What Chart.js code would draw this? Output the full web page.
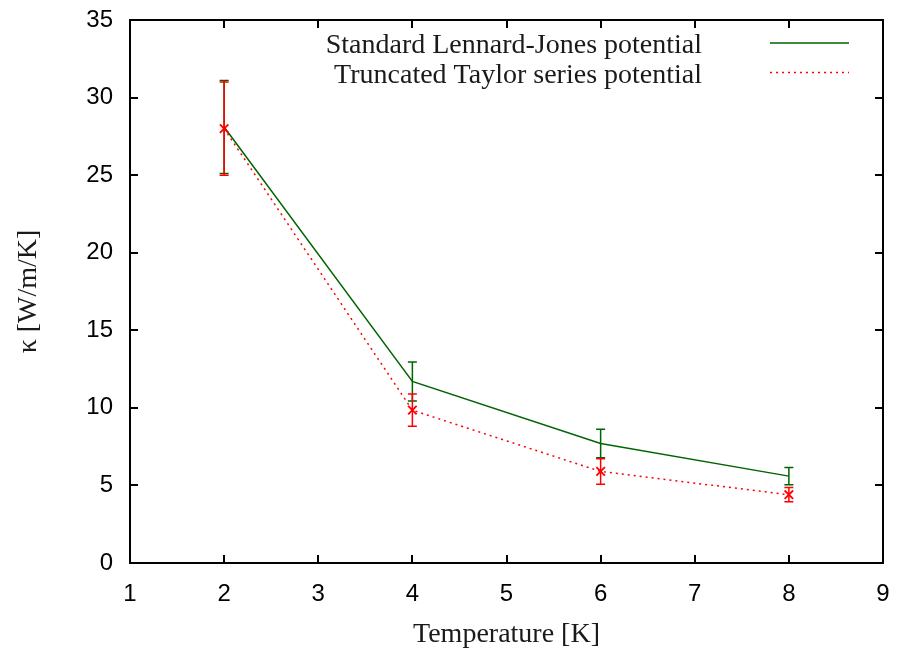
<!DOCTYPE html>
<html>
<head>
<meta charset="utf-8">
<title>Thermal conductivity vs temperature</title>
<script src="https://cdn.jsdelivr.net/npm/chart.js@4/dist/chart.umd.min.js"></script>
<style>
    html, body { margin: 0; padding: 0; background: #fff; }
    #wrap { width: 900px; height: 658px; position: relative; }
</style>
</head>
<body>
<div id="wrap"><canvas id="kappa-chart"></canvas></div>
<script>
// --- DATA ---
const temperatures = [2, 4, 6, 8];
const ljKappa = [28.1, 11.7, 7.7, 5.6];
const ljError = [3.0, 1.25, 0.92, 0.56];
const taylorKappa = [28.0, 9.85, 5.9, 4.4];
const taylorError = [3.0, 1.04, 0.82, 0.46];
const xTicks = [1, 2, 3, 4, 5, 6, 7, 8, 9];
const yTicks = [0, 5, 10, 15, 20, 25, 30, 35];

const seriesLabels = ['Standard Lennard-Jones potential', 'Truncated Taylor series potential'];
const GREEN = '#006400';
const RED = '#ff0000';
const SERIF = '"Liberation Serif", "Times New Roman", serif';
const SANS = '"Liberation Sans", Arial, sans-serif';

const toPoints = (xs, ys) => xs.map((x, i) => ({ x: x, y: ys[i] }));

// error bars, frame with inward ticks, and the in-plot key
const gnuplotStyle = {
    id: 'gnuplotStyle',
    afterDatasetDraw(chart, args) {
        const ds = chart.data.datasets[args.index];
        const errs = ds.errors;
        if (!errs) return;
        const { ctx, scales: { x, y } } = chart;
        ctx.save();
        ctx.strokeStyle = ds.borderColor;
        ctx.lineWidth = 1.5;
        ctx.setLineDash([]);
        ds.data.forEach((p, i) => {
            const px = x.getPixelForValue(p.x);
            const top = y.getPixelForValue(p.y + errs[i]);
            const bot = y.getPixelForValue(p.y - errs[i]);
            ctx.beginPath();
            ctx.moveTo(px, top); ctx.lineTo(px, bot);
            ctx.moveTo(px - 4.5, top); ctx.lineTo(px + 4.5, top);
            ctx.moveTo(px - 4.5, bot); ctx.lineTo(px + 4.5, bot);
            ctx.stroke();
        });
        ctx.restore();
    },
    afterDraw(chart) {
        const { ctx, chartArea: a, scales: { x, y } } = chart;
        ctx.save();
        ctx.strokeStyle = '#000';
        ctx.lineWidth = 2;
        ctx.beginPath();
        xTicks.forEach(v => {
            const px = Math.round(x.getPixelForValue(v));
            ctx.moveTo(px, a.bottom); ctx.lineTo(px, a.bottom - 8);
            ctx.moveTo(px, a.top); ctx.lineTo(px, a.top + 8);
        });
        yTicks.forEach(v => {
            const py = Math.round(y.getPixelForValue(v));
            ctx.moveTo(a.left, py); ctx.lineTo(a.left + 8, py);
            ctx.moveTo(a.right, py); ctx.lineTo(a.right - 8, py);
        });
        ctx.stroke();
        ctx.strokeRect(a.left, a.top, a.right - a.left, a.bottom - a.top);

        // key, top right inside the plot
        ctx.font = '28px ' + SERIF;
        ctx.fillStyle = '#1a1a1a';
        ctx.textAlign = 'right';
        ctx.textBaseline = 'alphabetic';
        const rows = [
            { label: seriesLabels[0], color: GREEN, dash: [], base: 53, lineY: 43 },
            { label: seriesLabels[1], color: RED, dash: [2, 4], base: 83, lineY: 72.5 }
        ];
        rows.forEach(r => {
            ctx.fillText(r.label, 702, r.base);
            ctx.beginPath();
            ctx.strokeStyle = r.color;
            ctx.lineWidth = 1.5;
            ctx.setLineDash(r.dash);
            ctx.moveTo(770, r.lineY);
            ctx.lineTo(849, r.lineY);
            ctx.stroke();
        });
        ctx.restore();
    }
};

new Chart(document.getElementById('kappa-chart'), {
    type: 'line',
    data: {
        datasets: [
            {
                label: seriesLabels[0],
                data: toPoints(temperatures, ljKappa),
                errors: ljError,
                borderColor: GREEN,
                borderWidth: 1.5,
                pointRadius: 0,
                tension: 0,
                order: 2
            },
            {
                label: seriesLabels[1],
                data: toPoints(temperatures, taylorKappa),
                errors: taylorError,
                borderColor: RED,
                borderWidth: 1.5,
                borderDash: [2, 4],
                pointStyle: 'crossRot',
                pointRadius: 6,
                pointBorderWidth: 1.8,
                pointBorderColor: RED,
                tension: 0,
                order: 1
            }
        ]
    },
    options: {
        responsive: true,
        maintainAspectRatio: false,
        animation: false,
        layout: { padding: { top: 20, right: 17, left: 0, bottom: 0 } },
        plugins: { legend: { display: false }, tooltip: { enabled: false } },
        scales: {
            x: {
                type: 'linear',
                min: 1,
                max: 9,
                afterFit: s => { s.height = 95; s.paddingLeft = 0; s.paddingRight = 0; },
                afterBuildTicks: s => { s.ticks = xTicks.map(v => ({ value: v })); },
                grid: { display: false, drawTicks: false },
                border: { display: false },
                ticks: { color: '#000', padding: 17, font: { family: SANS, size: 24 } },
                title: {
                    display: true,
                    text: 'Temperature [K]',
                    color: '#1a1a1a',
                    padding: { top: 7, bottom: 7 },
                    font: { family: SERIF, size: 28 }
                }
            },
            y: {
                min: 0,
                max: 35,
                afterFit: s => { s.width = 130; s.paddingTop = 0; s.paddingBottom = 0; },
                afterBuildTicks: s => { s.ticks = yTicks.map(v => ({ value: v })); },
                grid: { display: false, drawTicks: false },
                border: { display: false },
                ticks: { color: '#000', padding: 17, font: { family: SANS, size: 24 } },
                title: {
                    display: true,
                    text: 'κ [W/m/K]',
                    color: '#1a1a1a',
                    padding: { top: 12, bottom: 0 },
                    font: { family: SERIF, size: 28 }
                }
            }
        }
    },
    plugins: [gnuplotStyle]
});
</script>
</body>
</html>
